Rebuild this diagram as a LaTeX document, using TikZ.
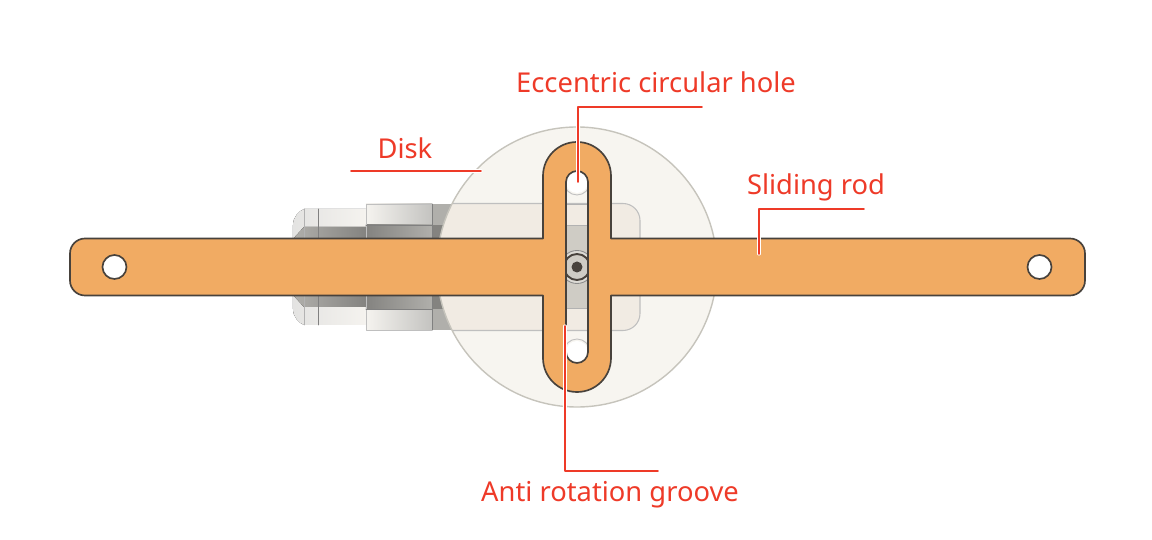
\documentclass[tikz,border=0pt]{standalone}
\usepackage{fontspec}
\setmainfont{Noto Sans}
\usepackage{xcolor}
\begin{document}
\begin{tikzpicture}[
      x=0.02cm,
      y=0.02cm,
      line join=round,
      line cap=round
  ]

  % Sizes of the rod and its cross piece
  \def\rh{28.5}    % half height of the rod
  \def\cw{34}      % half width of the cross piece
  \def\sw{11}      % half width of the groove
  \def\sc{85}      % height of the groove arc centre
  \def\hx{462.5}   % position of the end holes

  % Palette
  \definecolor{rodorange}{RGB}{241, 171, 99}
  \definecolor{rodedge}{RGB}{72, 66, 60}
  \definecolor{leadred}{RGB}{238, 58, 40}
  \definecolor{diskfill}{RGB}{247, 245, 240}
  \definecolor{diskedge}{RGB}{198, 196, 188}
  \definecolor{plate}{RGB}{241, 235, 227}
  \definecolor{bodylight}{RGB}{245, 243, 239}
  \definecolor{bodymid}{RGB}{176, 175, 171}
  \definecolor{bodydark}{RGB}{132, 131, 128}
  \definecolor{stripgrey}{RGB}{207, 204, 197}

  \tikzset{
      rodbody/.style={fill=rodorange, draw=rodedge, line width=0.95pt},
      bodyline/.style={draw=black!50, line width=0.5pt},
      leader/.style={draw=leadred, line width=1pt,
          preaction={draw=white, line width=1.8pt}},
      partlabel/.style={text=leadred, font=\fontsize{15.55}{18}\selectfont, inner sep=0pt, text depth=0.29cm, anchor=south},
      lowlabel/.style={text=leadred, font=\fontsize{15.55}{18}\selectfont, inner sep=0pt, text height=0.6cm, anchor=north}
  }

  % Page size
  \useasboundingbox (-577, -273) rectangle (575, 267);

  % 1. Shaft and block seen behind the rod
  \foreach \s in {1, -1} {
    \begin{scope}[yscale=\s]
      \fill[left color=bodymid!35!white, right color=bodylight] (-284, 28) -- (-284, 42) .. controls (-284, 50) and (-278, 56) .. (-273, 58) -- (-211, 58) -- (-211, 28) -- cycle;
      \fill[left color=bodymid, right color=bodydark] (-284, 28) -- (-273, 40) -- (-211, 40) -- (-211, 28) -- cycle;
      \fill[left color=bodylight, right color=bodymid!75!white] (-211, 42) rectangle (-145, 63);
      \fill[left color=bodydark, right color=bodymid] (-211, 28) rectangle (-145, 42);
      \fill[bodymid] (-145, 42) rectangle (-100, 63);
      \fill[bodydark] (-145, 28) rectangle (-100, 42);
      \draw[bodyline, draw=black!25] (-145, 63) -- (-211, 63) -- (-211, 28);
      \draw[bodyline] (-211, 42) -- (-145, 42);
      \draw[bodyline] (-145, 63) -- (-145, 28);
      \draw[bodyline, draw=black!30] (-273, 58) -- (-273, 28);
      \draw[bodyline] (-259, 58) -- (-259, 28);
    \end{scope}
  }

  % 2. Disk with the plate on it
  \fill[diskfill] (0, 0) circle[radius=140];
  \begin{scope}
    \clip (0, 0) circle[radius=140];
    \filldraw[fill=plate, draw=black!25, line width=0.6pt] (-230, 63.5) -- (46, 63.5) arc[start angle=90, end angle=0, radius=17] -- (63, -46.5) arc[start angle=0, end angle=-90, radius=17] -- (-230, -63.5) -- cycle;
  \end{scope}
  \draw[diskedge, line width=0.8pt] (0, 0) circle[radius=140];

  % 3. What shows through the groove
  \fill[stripgrey] (-\sw, -41) rectangle (\sw, 42);
  \draw[black!30, line width=0.5pt] (-\sw, 42) -- (\sw, 42);
  \draw[black!30, line width=0.5pt] (-\sw, -41) -- (\sw, -41);
  \draw[black!30, line width=0.5pt] (-\sw, 63) -- (\sw, 63);
  \filldraw[fill=stripgrey!70!white, draw=black!45, line width=0.5pt] (0, 0) circle[radius=16.5];
  \filldraw[fill=stripgrey, draw=rodedge, line width=1.1pt] (0, 0) circle[radius=13];
  \fill[rodedge] (0, 0) circle[radius=5.5];
  \draw[black!25, line width=0.5pt] (0, \sc) circle[radius=13];
  \draw[black!25, line width=0.5pt] (0, -\sc) circle[radius=13];
  \fill[white] (0, \sc) circle[radius=\sw];
  \fill[white] (0, -\sc) circle[radius=\sw];

  % 4. Sliding rod, cross piece, groove and end holes
  \filldraw[rodbody, even odd rule]
      (-492, \rh) -- (-\cw, \rh) -- (-\cw, 91) arc[start angle=180, end angle=0, radius=\cw]
      -- (\cw, \rh) -- (493, \rh) arc[start angle=90, end angle=0, radius=15]
      -- (508, -13.5) arc[start angle=0, end angle=-90, radius=15]
      -- (\cw, -\rh) -- (\cw, -91) arc[start angle=0, end angle=-180, radius=\cw]
      -- (-\cw, -\rh) -- (-492, -\rh) arc[start angle=270, end angle=180, radius=15]
      -- (-507, 13.5) arc[start angle=180, end angle=90, radius=15] -- cycle
      (-\sw, \sc) arc[start angle=180, end angle=0, radius=\sw]
      -- (\sw, -\sc) arc[start angle=0, end angle=-180, radius=\sw] -- cycle
      (-\hx, 0) circle[radius=12]
      (\hx, 0) circle[radius=12];

  % 5. Labels
  \node[partlabel] (holelabel) at (79, 160) {Eccentric circular hole};
  \node[partlabel, text depth=0.25cm] (disklabel) at (-172, 96) {Disk};
  \node[partlabel] (rodlabel) at (239, 58) {Sliding rod};
  \node[lowlabel] (groovelabel) at (33, -204) {Anti rotation groove};

  % 6. Leader lines
  \coordinate (holeend) at (1, 85);
  \coordinate (holebar) at (125, 160);
  \coordinate (diskend) at (-96, 96);
  \coordinate (diskbar) at (-226, 96);
  \coordinate (rodend) at (182, 13);
  \coordinate (rodbar) at (287, 58);
  \coordinate (grooveend) at (-12, -59);
  \coordinate (groovebar) at (81, -204);

  \draw[leader] (holeend) |- (holelabel.south) -- (holebar);
  \draw[leader] (diskbar) -- (disklabel.south) -- (diskend);
  \draw[leader] (rodend) |- (rodlabel.south) -- (rodbar);
  \draw[leader] (grooveend) |- (groovelabel.north) -- (groovebar);

\end{tikzpicture}
\end{document}
